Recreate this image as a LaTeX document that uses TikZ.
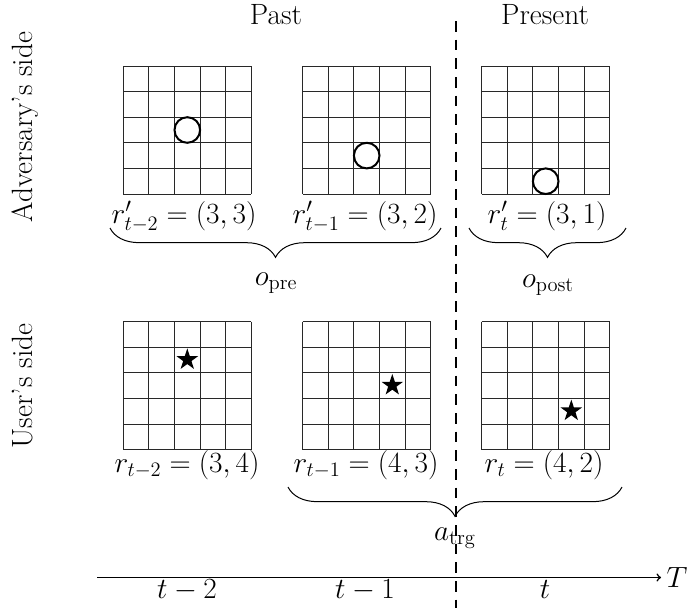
\documentclass[tikz,border=0pt]{standalone}
\usepackage{fix-cm}
\usetikzlibrary{shapes.geometric,decorations.pathreplacing}

\tikzset{every picture/.style={line width=0.75pt}}
\tikzset{
  cellline/.style={line width=0.75pt, color={rgb, 255:red, 40; green, 40; blue, 40 }},
  token/.style={line width=1.5pt},
  starmark/.style={star, star points=5, star point ratio=2.6, fill=black, draw=none, minimum size=17pt, inner sep=0pt},
  curly/.style={decorate, decoration={brace, mirror, amplitude=22pt}, line width=0.75pt},
  nowline/.style={line width=1.5pt, dash pattern={on 8pt off 6pt}},
  timeline/.style={line width=1.2pt, ->},
  lbl/.style={anchor=base, inner sep=0.75pt, font=\fontsize{22}{26}\selectfont}
}

\begin{document}
\begin{tikzpicture}[x=0.75pt,y=0.75pt,yscale=-1,xscale=1]
\path[use as bounding box] (0,0) rectangle (696,608); %set diagram size 696 x 608

%Grids (5 x 5 cells)
\foreach \gx in {123.3,302.7,481.7} {
  \foreach \gy in {66,321.7} {
    \foreach \k in {0,...,5} {
      \draw[cellline] (\gx+\k*25.6,\gy) -- ++(0,128) ;
      \draw[cellline] (\gx,\gy+\k*25.6) -- ++(128,0) ;
    }
  }
}

%Adversary's guesses
\draw[token] (187.3,130) circle (12.8) ;
\draw[token] (366.7,155.6) circle (12.8) ;
\draw[token] (545.7,181.2) circle (12.8) ;

%User's positions
\node[starmark] (star1) at (187.3,359.7) {};
\node[starmark] (star2) at (392.3,385.3) {};
\node[starmark] (star3) at (571.3,410.9) {};

%Present / past border
\coordinate (dtop) at (455.5,21) ;
\coordinate (dbot) at (455.5,608) ;
\draw[nowline] (dtop) -- (dbot) ;

%Time axis
\coordinate (ax0) at (97,577.5) ;
\coordinate (ax1) at (661,577.5) ;
\draw[timeline] (ax0) -- (ax1) ;
\node[lbl, anchor=west] (tax) at (665,577.5) {$T$};

% Text Node
\node[lbl] (past) at (276,24) {Past};
% Text Node
\node[lbl] (present) at (545,24) {Present};
% Text Node
\node[lbl, rotate=90] (advside) at (32,127) {Adversary's side};
% Text Node
\node[lbl, rotate=90] (usrside) at (32,386) {User's side};

% Text Node
\node[lbl] (adv1) at (184,223) {$r'_{t-2}=(3,3)$};
% Text Node
\node[lbl] (adv2) at (365,223) {$r'_{t-1}=(3,2)$};
% Text Node
\node[lbl] (adv3) at (547,223) {$r'_{t}=(3,1)$};
% Text Node
\node[lbl] (usr1) at (187,472) {$r_{t-2}=(3,4)$};
% Text Node
\node[lbl] (usr2) at (366,472) {$r_{t-1}=(4,3)$};
% Text Node
\node[lbl] (usr3) at (544,472) {$r_{t}=(4,2)$};

%Braces
\coordinate (pre0) at (110,228) ;
\coordinate (pre1) at (441,228) ;
\coordinate (post0) at (469,228) ;
\coordinate (post1) at (626,228) ;
\coordinate (trg0) at (288,487) ;
\coordinate (trg1) at (622,487) ;
\draw[curly] (pre0) -- (pre1) ;
\draw[curly] (post0) -- (post1) ;
\draw[curly] (trg0) -- (trg1) ;

% Text Node
\node[lbl] (opre) at (276,285) {$o_{\mathrm{pre}}$};
% Text Node
\node[lbl] (opost) at (548,287) {$o_{\mathrm{post}}$};
% Text Node
\node[lbl] (atrg) at (455,540) {$a_{\mathrm{trg}}$};

% Text Node
\node[lbl] (tm2) at (187,598) {$t-2$};
% Text Node
\node[lbl] (tm1) at (365,598) {$t-1$};
% Text Node
\node[lbl] (tnow) at (545,598) {$t$};

\end{tikzpicture}
\end{document}
